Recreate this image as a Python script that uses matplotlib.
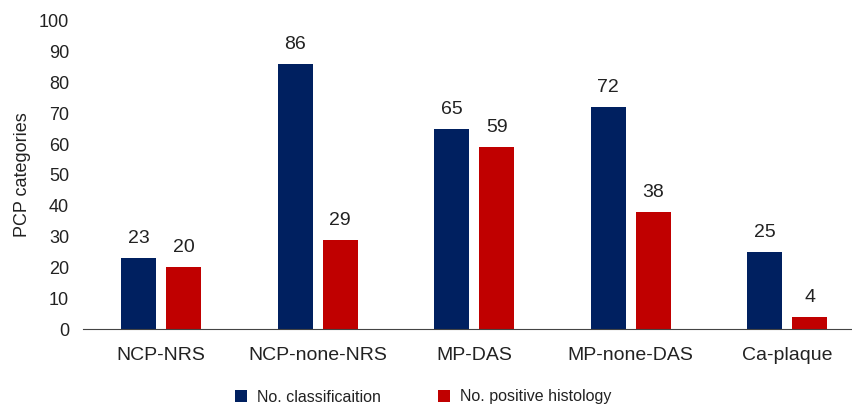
import numpy as np
import matplotlib.pyplot as plt

plt.rcParams['font.family'] = ['Liberation Sans', 'DejaVu Sans']

categories = ["NCP-NRS", "NCP-none-NRS", "MP-DAS", "MP-none-DAS", "Ca-plaque"]
n_classification = [23, 86, 65, 72, 25]
n_positive = [20, 29, 59, 38, 4]
series_names = ["No. classificaition", "No. positive histology"]

blue = "#002060"
red = "#C00000"
text_col = "#222222"

fig = plt.figure(figsize=(8.52, 4.07), dpi=100)
ax = fig.add_axes([83 / 852, 78 / 407, 769 / 852, 308 / 407])

x = np.arange(len(categories))
w = 0.224
off = 0.144
b1 = ax.bar(x - off, n_classification, w, color=blue, label=series_names[0])
b2 = ax.bar(x + off, n_positive, w, color=red, label=series_names[1])

for bars in (b1, b2):
    for b in bars:
        ax.annotate(f"{int(b.get_height())}", (b.get_x() + b.get_width() / 2, b.get_height()),
                    xytext=(0, 8), textcoords="offset points", ha="center", va="bottom",
                    fontsize=14, color=text_col)

ax.set_xlim(-0.5, 4.414)
ax.set_ylim(0, 100)
ax.set_yticks(range(0, 101, 10))
ax.set_xticks(x)
ax.set_xticklabels(categories)
ax.tick_params(axis="both", length=0, colors=text_col)
ax.tick_params(axis="x", pad=13, labelsize=14)
ax.tick_params(axis="y", pad=10, labelsize=13)
for s in ["top", "right", "left"]:
    ax.spines[s].set_visible(False)
ax.spines["bottom"].set_color("#444444")
ax.set_ylabel("PCP categories", fontsize=13, color=text_col, labelpad=6)

fig.legend(handles=[b1, b2], loc="center", bbox_to_anchor=(423 / 852, 1 - 397 / 407),
           ncol=2, frameon=False, fontsize=11.5, handlelength=0.75, handleheight=0.75,
           columnspacing=3.6, handletextpad=0.6, labelcolor=text_col)

plt.savefig("out.png", dpi=100)
plt.close()
